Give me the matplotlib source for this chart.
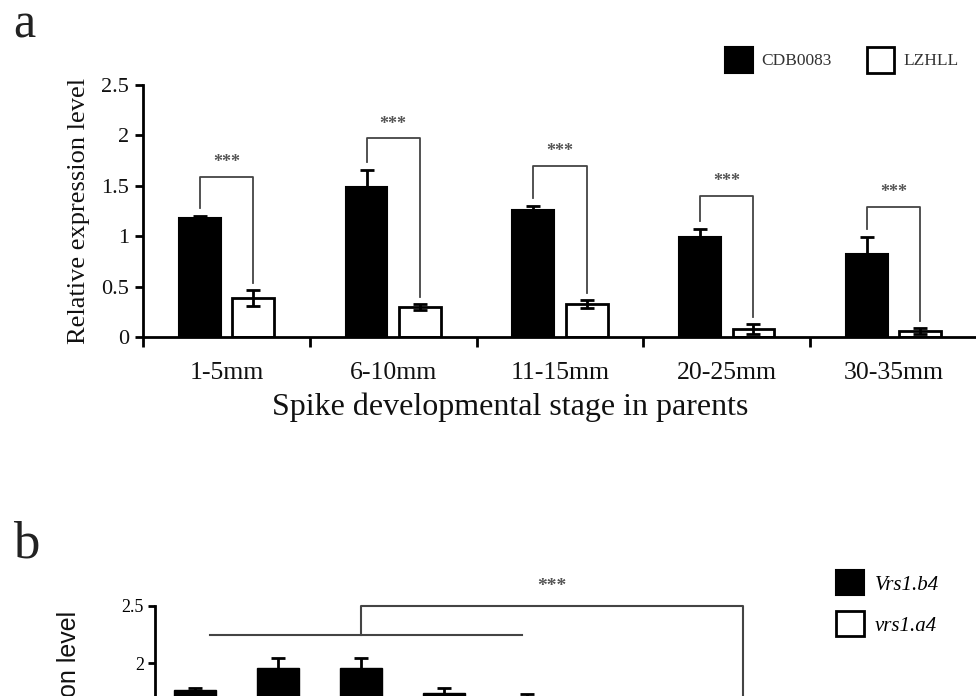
import matplotlib
matplotlib.use('Agg')
import matplotlib.pyplot as plt
from matplotlib.patches import Patch
import numpy as np

plt.rcParams['font.family'] = ['Liberation Serif', 'DejaVu Serif']

# panel a: expression across spike stages in the two parents
stages = ['1-5mm', '6-10mm', '11-15mm', '20-25mm', '30-35mm']
cdb_mean = [1.18, 1.49, 1.26, 0.99, 0.82]
cdb_err = [0.02, 0.17, 0.04, 0.08, 0.17]
lzh_mean = [0.39, 0.30, 0.33, 0.08, 0.06]
lzh_err = [0.08, 0.03, 0.04, 0.05, 0.03]
bracket_top = [1.59, 1.97, 1.70, 1.40, 1.29]

# panel b: Vrs1.b4 vs vrs1.a4 lines
b4_mean = [1.76, 1.96, 1.96, 1.74, 1.70]
b4_err = [0.02, 0.08, 0.08, 0.04, 0.03]
a4_mean = [0.55, 0.42, 0.47, 0.38, 0.35]
a4_err = [0.05, 0.04, 0.05, 0.04, 0.03]
b4_line = 2.25
a4_line = 0.80
group_top = 2.5

STAR_C = '#555555'
W, H = 976, 696

fig = plt.figure(figsize=(9.76, 6.96), dpi=100)


def px_box(x0, y0, x1, y1):
    return [x0 / W, 1 - y1 / H, (x1 - x0) / W, (y1 - y0) / H]


# ---- panel a ----
ax = fig.add_axes(px_box(143, 85, 977, 337))
x = np.arange(len(stages)) + 0.5
off, bw = 0.16, 0.25
cdb_top = np.array(cdb_mean) + np.array(cdb_err)
lzh_top = np.array(lzh_mean) + np.array(lzh_err)

ax.bar(x - off, cdb_mean, bw, color='black', edgecolor='black', lw=1.5,
       yerr=cdb_err, error_kw=dict(ecolor='black', elinewidth=2, capsize=5, capthick=2))
ax.bar(x + off, lzh_mean, bw, color='white', edgecolor='black', lw=2,
       yerr=lzh_err, error_kw=dict(ecolor='black', elinewidth=2, capsize=5, capthick=2))

for i in range(len(stages)):
    xl, xr = x[i] - off, x[i] + off
    ax.plot([xl, xl, xr, xr], [cdb_top[i] + 0.08, bracket_top[i], bracket_top[i], lzh_top[i] + 0.07],
            color='#444444', lw=1.3)
    ax.text(x[i], bracket_top[i] + 0.14, '***', ha='center', va='center',
            fontsize=13, color=STAR_C, fontweight='bold')

ax.set_xlim(0, 5)
ax.set_ylim(0, 2.5)
ax.set_yticks([0, 0.5, 1, 1.5, 2, 2.5])
ax.set_yticklabels(['0', '0.5', '1', '1.5', '2', '2.5'])
ax.set_xticks(np.arange(0, 6))
ax.set_xticklabels([])
ax.set_xticks(x, minor=True)
ax.set_xticklabels(stages, minor=True)
ax.tick_params(axis='x', which='major', length=7, width=2, direction='out')
ax.tick_params(axis='x', which='minor', length=0, pad=18, labelsize=18.5, labelcolor='#111111')
ax.tick_params(axis='y', length=6, width=2, pad=4, labelsize=16, labelcolor='#111111')
for s in ['top', 'right']:
    ax.spines[s].set_visible(False)
ax.spines['left'].set_linewidth(2)
ax.spines['bottom'].set_linewidth(2)

ax.set_ylabel('Relative expression level', fontsize=19, color='#111111')
ax.yaxis.set_label_coords(-0.064, 0.5)
fig.text(510 / W, 1 - 407 / H, 'Spike developmental stage in parents', ha='center', va='center',
         fontsize=23, color='#111111')

handles = [Patch(facecolor='black', edgecolor='black', lw=1.5),
           Patch(facecolor='white', edgecolor='black', lw=2)]
fig.legend(handles, ['CDB0083', 'LZHLL'], loc='upper left', bbox_to_anchor=(725 / W, 1 - 47 / H),
           ncol=2, frameon=False, fontsize=12.5, handlelength=1.6, handleheight=1.9,
           handletextpad=0.5, columnspacing=2.0, borderpad=0, borderaxespad=0,
           labelcolor='#333333')

fig.text(13 / W, 1 - 37 / H, 'a', fontsize=36, va='baseline', ha='left', color='#222222')

# ---- panel b (runs off the bottom of the figure) ----
bx = fig.add_axes(px_box(155, 606, 950, 891))
b4_x = np.arange(5)
a4_x = np.arange(5) + 4.6
bx.bar(b4_x, b4_mean, 0.5, color='black', edgecolor='black',
       yerr=b4_err, error_kw=dict(ecolor='black', elinewidth=2, capsize=5, capthick=2))
bx.bar(a4_x, a4_mean, 0.5, color='white', edgecolor='black', lw=2,
       yerr=a4_err, error_kw=dict(ecolor='black', elinewidth=2, capsize=5, capthick=2))

cl, cr = b4_x.mean(), a4_x.mean()
bx.plot([b4_x[0] + 0.18, b4_x[-1] - 0.06], [b4_line, b4_line], color='#444444', lw=1.5, clip_on=False)
bx.plot([a4_x[0] + 0.18, a4_x[-1] - 0.06], [a4_line, a4_line], color='#444444', lw=1.5, clip_on=False)
bx.plot([cl, cl, cr, cr], [b4_line, group_top, group_top, a4_line], color='#444444', lw=1.5,
        clip_on=False)
bx.text((cl + cr) / 2 + 0.0, group_top + 0.17, '***', ha='center', va='center',
        fontsize=14, color=STAR_C, fontweight='bold')

bx.set_xlim(-0.48, 9.1)
bx.set_ylim(0, 2.5)
# only the upper ticks fall inside the figure
bx.set_yticks([2, 2.5])
bx.set_yticklabels(['2', '2.5'])
bx.set_xticks([])
bx.tick_params(axis='y', length=5, width=2, pad=3, labelsize=13)
for s in ['top', 'right']:
    bx.spines[s].set_visible(False)
bx.spines['left'].set_linewidth(2)
bx.spines['bottom'].set_linewidth(2)
bx.set_ylabel('Relative expression level', fontsize=18, family=['Liberation Sans', 'DejaVu Sans'],
              color='#111111')
bx.yaxis.set_label_coords(-0.093, 0.5)

handles_b = [Patch(facecolor='black', edgecolor='black', lw=1.5),
             Patch(facecolor='white', edgecolor='black', lw=2)]
fig.legend(handles_b, ['Vrs1.b4', 'vrs1.a4'], loc='upper left', bbox_to_anchor=(836 / W, 1 - 570 / H),
           ncol=1, frameon=False, handlelength=1.35, handleheight=1.5,
           handletextpad=0.5, labelspacing=0.75, borderpad=0, borderaxespad=0,
           prop=dict(family='Liberation Serif', style='italic', size=15))

fig.text(13 / W, 1 - 557 / H, 'b', fontsize=38, va='baseline', ha='left', color='#222222')

fig.savefig('out.png', dpi=100)
